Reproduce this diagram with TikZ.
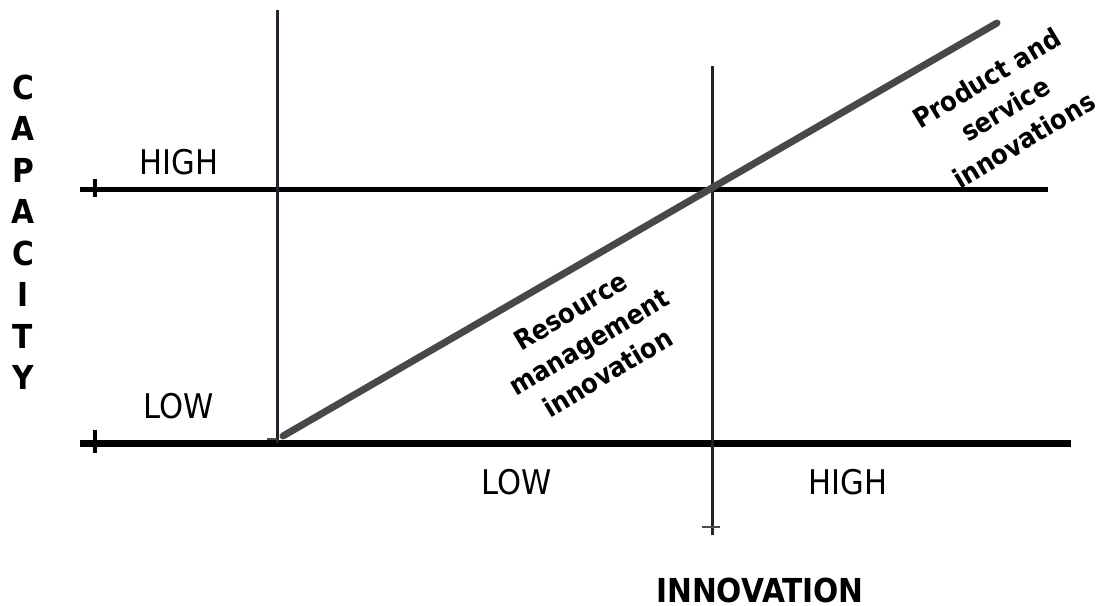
\documentclass[tikz,border=0pt]{standalone}
\usepackage{fontspec}
\setmainfont{DejaVu Sans Condensed}
\definecolor{axisline}{RGB}{32,35,48}
\definecolor{trendgray}{RGB}{72,72,72}

\begin{document}
\begin{tikzpicture}[x=1pt,y=-1pt,
  level/.style={font=\fontsize{34}{40}\selectfont, inner sep=0pt},
  axisname/.style={font=\fontsize{33}{41.5}\selectfont\bfseries, inner sep=0pt, align=center},
  zone/.style={font=\fontsize{27}{36}\selectfont\bfseries, inner sep=0pt, align=center, rotate=31}]
\useasboundingbox (0,0) rectangle (1100,605);
\coordinate (hiL) at (80,189);
\coordinate (hiR) at (1048,189);
\coordinate (loL) at (80,443);
\coordinate (loR) at (1071,443);
\coordinate (lowTop) at (277,10);
\coordinate (lowBot) at (277,443);
\coordinate (highTop) at (712,66);
\coordinate (highBot) at (712,535);
\coordinate (trendStart) at (283,436);
\coordinate (trendEnd) at (997,23);
\draw[black, line width=5pt] (hiL) -- (hiR);
\draw[black, line width=7pt] (loL) -- (loR);
\draw[black, line width=4pt] (95,179) -- (95,197);
\draw[black, line width=4pt] (95,430) -- (95,453);
\draw[axisline, line width=3pt] (lowTop) -- (lowBot);
\draw[axisline, line width=3pt] (highTop) -- (highBot);
\draw[black!70, line width=2pt] (267,439) -- (277,439);
\draw[black!70, line width=2pt] (702,527) -- (720,527);
\draw[trendgray, line width=7pt, line cap=round] (trendStart) -- (trendEnd);
\node[level] (capHigh) at (179,162) {HIGH};
\node[level] (capLow) at (179,406) {LOW};
\node[level] (innLow) at (517,482) {LOW};
\node[level] (innHigh) at (848,482) {HIGH};
\node[axisname] (capacity) at (23,232) {C\\A\\P\\A\\C\\I\\T\\Y};
\node[axisname] (innovation) at (760,590) {INNOVATION};
\node[zone] (resource) at (589,342) {Resource\\management\\innovation};
\node[zone] (product) at (1005,109) {Product and\\service\\innovations};
\end{tikzpicture}
\end{document}
